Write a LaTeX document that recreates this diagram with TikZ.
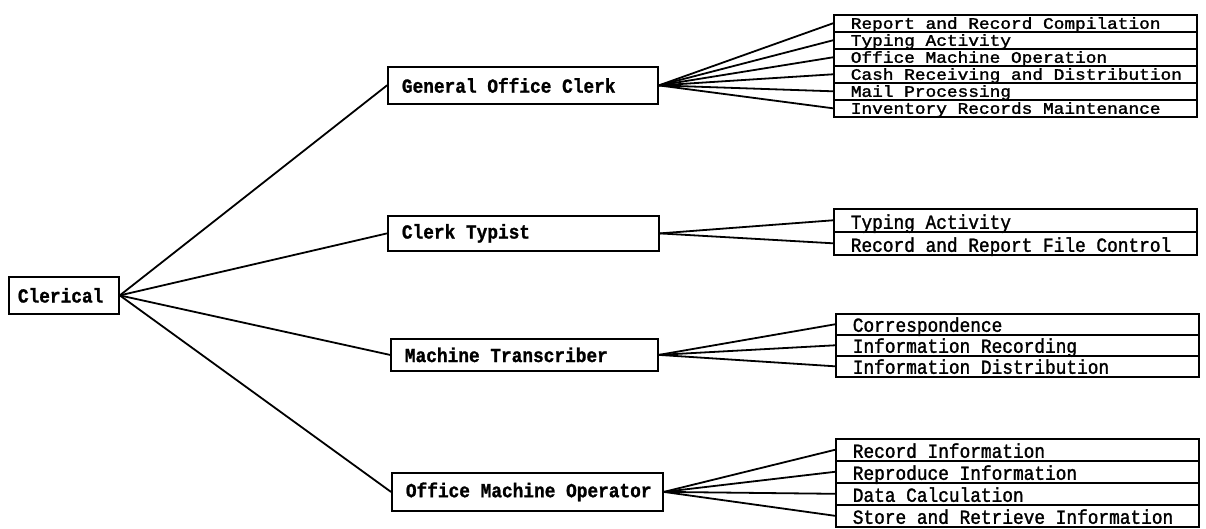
\documentclass[tikz,border=0pt]{standalone}
\usepackage{fontspec}
\newfontfamily\tw{Liberation Mono}[FakeBold=1.6]
\newfontfamily\twb{Liberation Mono Bold}[FakeBold=1.2]
% vertical stretch of the labels
\newcommand{\vstretch}{1.12}
% a cell: fixed-width box with the label set in from the left edge
\newcommand{\cell}[3]{\makebox[#1pt][l]{\hspace{#2pt}\scalebox{1}[\vstretch]{#3}}}
\tikzset{
  x=1pt, y=-1pt,
  box/.style={draw, line width=1.8pt, inner sep=0pt, anchor=north west,
              font=\twb\fontsize{17.8}{20}\selectfont},
  task/.style={draw, line width=1.6pt, inner sep=0pt, anchor=north west,
               text depth=3pt, text height=#1,
               font=\tw\fontsize{17.8}{20}\selectfont},
  link/.style={line width=1.8pt, line cap=round},
}
\begin{document}
\begin{tikzpicture}
\useasboundingbox[fill=white] (0,0) rectangle (1206,529);

% root
\node[box, minimum height=37pt] (root) at (8,276) {\cell{110}{9}{Clerical}};

% job titles
\node[box, minimum height=37pt] (goc) at (387,66)  {\cell{270}{14}{General Office Clerk}};
\node[box, minimum height=35pt] (ct)  at (387,215) {\cell{271}{14}{Clerk Typist}};
\node[box, minimum height=32pt] (mt)  at (390,338) {\cell{267}{14}{Machine Transcriber}};
\node[box, minimum height=38pt] (omo) at (391,472) {\cell{271}{14}{Office Machine Operator}};

% duties of the clerk typist
\node[task=20pt] (c1) at (833,208) {\cell{363}{17}{Typing Activity}};
\node[task=20pt] (c2) at (833,231) {\cell{363}{17}{Record and Report File Control}};

% duties of the machine transcriber
\node[task=18pt] (m1) at (835,313) {\cell{363}{17}{Correspondence}};
\node[task=18pt] (m2) at (835,334) {\cell{363}{17}{Information Recording}};
\node[task=18pt] (m3) at (835,355) {\cell{363}{17}{Information Distribution}};

% duties of the office machine operator
\node[task=19pt] (o1) at (835,438) {\cell{363}{17}{Record Information}};
\node[task=19pt] (o2) at (835,460) {\cell{363}{17}{Reproduce Information}};
\node[task=19pt] (o3) at (835,482) {\cell{363}{17}{Data Calculation}};
\node[task=19pt] (o4) at (835,504) {\cell{363}{17}{Store and Retrieve Information}};

% duties of the general office clerk: tighter rows, flatter labels
\renewcommand{\vstretch}{0.9}
\node[task=14pt] (g1) at (833,14) {\cell{363}{17}{Report and Record Compilation}};
\node[task=14pt] (g2) at (833,31) {\cell{363}{17}{Typing Activity}};
\node[task=14pt] (g3) at (833,48) {\cell{363}{17}{Office Machine Operation}};
\node[task=14pt] (g4) at (833,65) {\cell{363}{17}{Cash Receiving and Distribution}};
\node[task=14pt] (g5) at (833,82) {\cell{363}{17}{Mail Processing}};
\node[task=14pt] (g6) at (833,99) {\cell{363}{17}{Inventory Records Maintenance}};

% root to job titles
\foreach \j in {goc,ct,mt,omo} \draw[link] (root.east) -- (\j.west);

% job titles to duties
\foreach \t in {g1,g2,g3,g4,g5,g6} \draw[link] (goc.east) -- (\t.west);
\foreach \t in {c1,c2} \draw[link] (ct.east) -- (\t.west);
\foreach \t in {m1,m2,m3} \draw[link] (mt.east) -- (\t.west);
\foreach \t in {o1,o2,o3,o4} \draw[link] (omo.east) -- (\t.west);
\end{tikzpicture}
\end{document}
